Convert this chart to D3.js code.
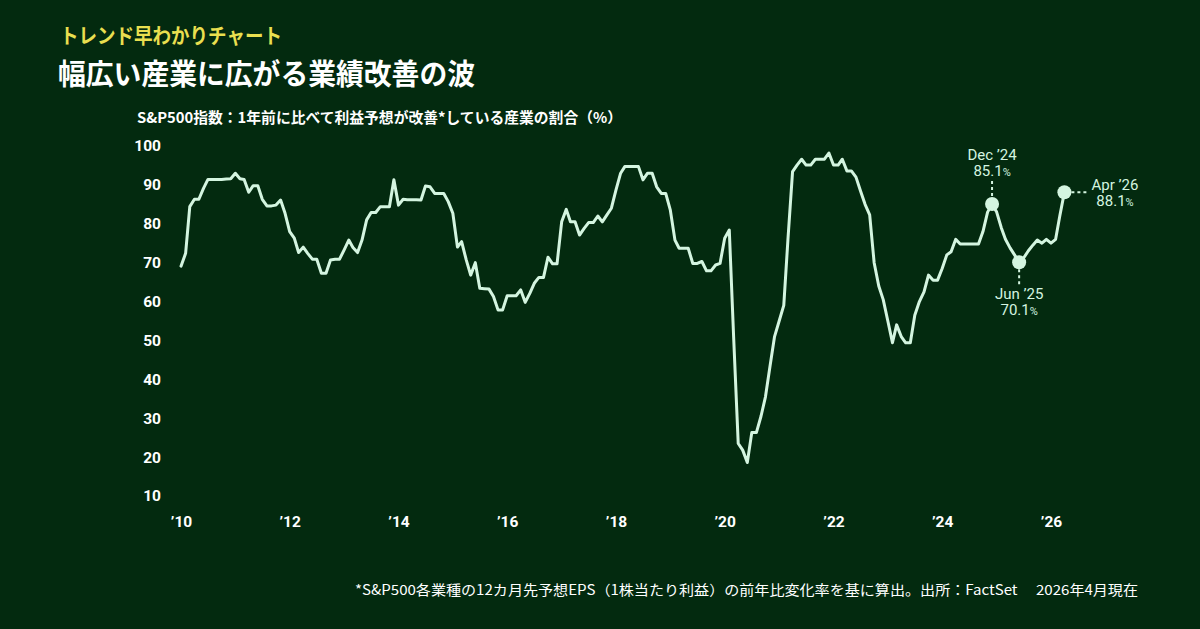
<!DOCTYPE html>
<html>
<head>
<meta charset="utf-8">
<script src="https://cdn.jsdelivr.net/npm/d3@7/dist/d3.min.js"></script>
<style>
  html, body { margin: 0; padding: 0; background: #032a0f; }
  svg { display: block; }
</style>
</head>
<body>
<svg id="chart" width="1200" height="629"></svg>
<script>
// ---- DATA ----
const startYear = 2010;
const startMonth = 0; // January 2010, monthly series
const values = [
  // 2010
  69.1, 72.4, 84.4, 86.3, 86.3, 89.1, 91.4, 91.4, 91.4, 91.4, 91.5, 91.6,
  // 2011
  93.0, 91.6, 91.4, 88.1, 89.8, 89.8, 86.3, 84.6, 84.6, 84.8, 86.1, 82.7,
  // 2012
  78.0, 76.3, 72.6, 74.0, 72.4, 70.9, 70.9, 67.3, 67.3, 70.7, 70.9, 70.9,
  // 2013
  73.3, 75.8, 73.9, 72.6, 75.8, 81.0, 82.9, 82.9, 84.4, 84.4, 84.4, 91.3,
  // 2014
  84.8, 86.3, 86.2, 86.2, 86.2, 86.1, 89.7, 89.5, 87.8, 87.8, 87.8, 85.7,
  // 2015
  82.7, 74.0, 75.4, 70.7, 66.8, 70.0, 63.4, 63.3, 63.2, 61.3, 57.8, 57.8,
  // 2016
  61.5, 61.5, 61.5, 63.0, 59.8, 62.1, 64.7, 66.2, 66.2, 71.4, 69.7, 69.7,
  // 2017
  80.5, 83.7, 80.5, 80.5, 77.1, 78.8, 80.3, 80.3, 82.0, 80.5, 82.3, 84.0,
  // 2018
  88.7, 93.0, 94.7, 94.7, 94.7, 94.7, 91.3, 93.0, 93.0, 89.5, 87.8, 87.8,
  // 2019
  83.5, 75.8, 73.7, 73.7, 73.7, 69.8, 69.8, 70.3, 67.9, 67.9, 69.4, 69.8,
  // 2020
  76.3, 78.4, 51.0, 23.5, 21.8, 18.6, 26.3, 26.3, 30.5, 35.5, 43.5, 51.0,
  // 2021
  55.0, 59.0, 76.0, 93.4, 95.1, 96.6, 95.1, 95.1, 96.6, 96.6, 96.6, 98.2,
  // 2022
  95.1, 95.1, 96.6, 93.6, 93.6, 92.0, 88.5, 85.0, 82.3, 70.0, 64.0, 60.5,
  // 2023
  55.0, 49.4, 54.0, 51.0, 49.4, 49.4, 56.5, 60.0, 62.5, 66.8, 65.5, 65.5,
  // 2024
  68.5, 72.0, 72.8, 76.0, 74.8, 74.8, 74.8, 74.8, 74.8, 78.0, 83.0, 85.1,
  // 2025
  83.0, 79.0, 76.0, 73.8, 72.0, 70.1, 71.2, 73.0, 74.5, 75.8, 75.0, 76.0,
  // 2026
  75.0, 76.0, 82.0, 88.1
];
const yTicks = [10, 20, 30, 40, 50, 60, 70, 80, 90, 100];
const xTickYears = [2010, 2012, 2014, 2016, 2018, 2020, 2022, 2024, 2026];
const xTickLabels = ["’10", "’12", "’14", "’16", "’18", "’20", "’22", "’24", "’26"];
// highlighted points
const highlightLabels = ["Dec ’24", "Jun ’25", "Apr ’26"];
const highlightYears = [2024, 2025, 2026];
const highlightMonths = [11, 5, 3];
const highlightValues = ["85.1", "70.1", "88.1"];

const kicker = "トレンド早わかりチャート";
const title = "幅広い産業に広がる業績改善の波";
const subtitle = "S&P500指数：1年前に比べて利益予想が改善*している産業の割合（%）";
const footnote = "*S&P500各業種の12カ月先予想EPS（1株当たり利益）の前年比変化率を基に算出。出所：FactSet　 2026年4月現在";

// ---- STYLE ----
const BG = "#032a0f";
const LINE = "#d4f5e0";
const WHITE = "#ffffff";
const YELLOW = "#e9df4f";

const svg = d3.select("#chart");
svg.append("rect").attr("width", 1200).attr("height", 629).attr("fill", BG);

const x = d3.scaleTime()
  .domain([new Date(2010, 0, 1), new Date(2026, 0, 1)])
  .range([181, 1051]);
const y = d3.scaleLinear().domain([10, 100]).range([496, 146]);

const data = values.map((v, i) => ({ date: new Date(startYear, startMonth + i, 1), value: v }));

// Titles
svg.append("text").text(kicker)
  .attr("x", 60).attr("y", 43)
  .attr("fill", YELLOW)
  .attr("font-family", "'Noto Sans CJK JP', sans-serif")
  .attr("font-size", 21).attr("font-weight", 700)
  .attr("textLength", 222).attr("lengthAdjust", "spacingAndGlyphs");

svg.append("text").text(title)
  .attr("x", 58).attr("y", 85)
  .attr("fill", WHITE)
  .attr("font-family", "'Noto Sans CJK JP', sans-serif")
  .attr("font-size", 29).attr("font-weight", 700)
  .attr("textLength", 417).attr("lengthAdjust", "spacingAndGlyphs");

svg.append("text").text(subtitle)
  .attr("x", 137).attr("y", 123)
  .attr("fill", WHITE)
  .attr("font-family", "'Noto Sans CJK JP', sans-serif")
  .attr("font-size", 14.5).attr("font-weight", 700)
  .attr("textLength", 485).attr("lengthAdjust", "spacingAndGlyphs");

// Y axis
const yAxis = d3.axisLeft(y).tickValues(yTicks).tickSize(0).tickPadding(0)
  .tickFormat(d => String(d));
const gy = svg.append("g").attr("transform", "translate(161,0)").call(yAxis);
gy.select(".domain").remove();
gy.selectAll("text")
  .attr("fill", WHITE)
  .attr("font-family", "Roboto, 'Liberation Sans', sans-serif")
  .attr("font-size", 15.5).attr("font-weight", 700)
  .attr("text-anchor", "end");

// X axis
const xAxis = d3.axisBottom(x)
  .tickValues(xTickYears.map(yr => new Date(yr, 0, 1)))
  .tickSize(0).tickPadding(0)
  .tickFormat((d, i) => xTickLabels[i]);
const gx = svg.append("g").attr("transform", "translate(0,516)").call(xAxis);
gx.select(".domain").remove();
gx.selectAll("text")
  .attr("fill", WHITE)
  .attr("font-family", "Roboto, 'Liberation Sans', sans-serif")
  .attr("font-size", 15.5).attr("font-weight", 700);

// Line
const line = d3.line().x(d => x(d.date)).y(d => y(d.value)).curve(d3.curveLinear);
svg.append("path").datum(data)
  .attr("d", line)
  .attr("fill", "none")
  .attr("stroke", LINE)
  .attr("stroke-width", 3)
  .attr("stroke-linejoin", "round")
  .attr("stroke-linecap", "round");

// Highlights
const annFont = "Roboto, 'Liberation Sans', sans-serif";
highlightLabels.forEach((lab, i) => {
  const d = new Date(highlightYears[i], highlightMonths[i], 1);
  const pt = data.find(p => p.date.getTime() === d.getTime());
  const cx = x(pt.date), cy = y(pt.value);
  let lx, ly1, ly2;
  if (i === 0) {
    svg.append("line").attr("x1", cx).attr("x2", cx).attr("y1", 181).attr("y2", cy - 7)
      .attr("stroke", LINE).attr("stroke-width", 2).attr("stroke-dasharray", "3,3");
    lx = cx; ly1 = 160; ly2 = 176;
  } else if (i === 1) {
    svg.append("line").attr("x1", cx).attr("x2", cx).attr("y1", cy + 7).attr("y2", 285)
      .attr("stroke", LINE).attr("stroke-width", 2).attr("stroke-dasharray", "3,3");
    lx = cx; ly1 = 299; ly2 = 315;
  } else {
    svg.append("line").attr("x1", cx + 7).attr("x2", 1088).attr("y1", cy).attr("y2", cy)
      .attr("stroke", LINE).attr("stroke-width", 2).attr("stroke-dasharray", "3,3");
    lx = 1115; ly1 = 190; ly2 = 206;
  }
  svg.append("circle").attr("cx", cx).attr("cy", cy).attr("r", 7).attr("fill", LINE);
  svg.append("text").text(lab)
    .attr("x", lx).attr("y", ly1).attr("text-anchor", "middle")
    .attr("fill", LINE).attr("font-family", annFont).attr("font-size", 15);
  const t = svg.append("text")
    .attr("x", lx).attr("y", ly2).attr("text-anchor", "middle")
    .attr("fill", LINE).attr("font-family", annFont).attr("font-size", 15);
  t.append("tspan").text(highlightValues[i]);
  t.append("tspan").text("%").attr("font-size", 11);
});

// Footnote
svg.append("text").text(footnote)
  .attr("x", 355).attr("y", 595)
  .attr("fill", WHITE)
  .attr("font-family", "'Noto Sans CJK JP', sans-serif")
  .attr("font-size", 14)
  .attr("textLength", 783).attr("lengthAdjust", "spacingAndGlyphs");
</script>
</body>
</html>
